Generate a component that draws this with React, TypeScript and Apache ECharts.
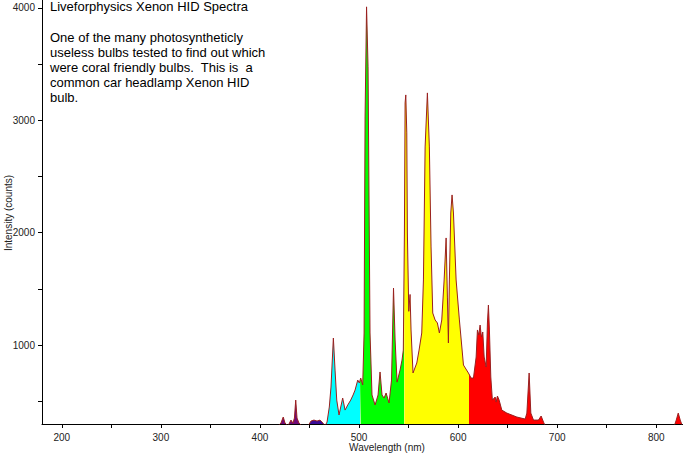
import React, { useEffect, useRef } from "react";
import * as echarts from "echarts";

// Spectrum samples (wavelength in nm, intensity in counts)
const wavelengthNm = [
  418.2, 421.2, 423.5, 425.3, 428.3, 431.3, 433.3, 434.8, 436.1, 437.4, 439.4, 442.4,
  448.5, 451.5, 454.5, 457.6, 460.6, 463.6, 465.7, 467.7, 470.0, 471.7, 474.1, 475.8,
  477.5, 479.8, 483.5, 485.9, 488.6, 491.6, 494.0, 496.0, 498.7, 500.3, 501.7, 503.7,
  505.1, 506.1, 507.6, 509.1, 510.1, 511.1, 513.1, 516.2, 519.2, 521.2, 523.2, 525.3,
  527.3, 530.3, 532.8, 534.8, 536.4, 538.4, 541.4, 543.4, 544.7, 545.8, 546.5, 547.2,
  548.2, 548.8, 550.2, 551.5, 552.5, 554.5, 558.3, 560.6, 563.3, 565.0, 566.7, 569.0,
  571.0, 572.7, 574.4, 576.8, 579.1, 581.1, 583.5, 585.9, 587.9, 589.2, 590.2, 591.2,
  592.6, 593.9, 595.3, 598.0, 601.3, 605.4, 610.4, 613.1, 615.5, 618.2, 619.5, 620.9,
  622.2, 623.5, 624.9, 626.3, 628.3, 629.6, 630.6, 631.6, 633.0, 634.6, 637.4, 638.4,
  639.7, 641.4, 644.1, 649.2, 659.3, 667.7, 669.4, 671.7, 673.4, 676.1, 681.1, 683.8,
  686.2, 687.9, 700, 818.2, 820.2, 822.2, 824.2, 826.3,
];
const intensity: (number | null)[] = [
  280, 305, 359, 305, 280, 332, 305, 350, 510, 350, 305, 280,
  280, 323, 332, 323, 332, 305, 280, 314, 448, 626, 1062, 777,
  510, 377, 528, 421, 466, 510, 555, 599, 688, 662, 706, 644,
  1107, 3030, 4010, 3476, 2291, 1107, 555, 466, 555, 760, 555, 528,
  573, 484, 688, 1507, 1045, 670, 777, 866, 955, 1997, 3155, 3226,
  2888, 1997, 1300, 1450, 1134, 751, 840, 955, 1107, 1579, 2763, 3244,
  2763, 1873, 1285, 1223, 1196, 1107, 1223, 1579, 1953, 1427, 1018, 1579,
  2175, 2336, 2175, 1579, 1223, 822, 751, 706, 706, 893, 1134, 1089,
  1178, 1071, 1116, 893, 804, 1196, 1356, 1134, 715, 510, 537, 492,
  546, 510, 421, 394, 359, 341, 394, 751, 394, 332, 332, 368,
  314, 280, null, 280, 332, 394, 332, 280,
];

// Colour bands of the fill (nm edges)
const bandEdges = [400, 445, 467, 501, 545.5, 611, 830];
const bandColors = ["#6e0a78", "#3a0a96", "#00ffff", "#00ff00", "#ffff00", "#ff0000"];

// Axis ticks and labels
const xTickValues = [200, 250, 300, 350, 400, 450, 500, 550, 600, 650, 700, 750, 800];
const xLabelValues = [200, 300, 400, 500, 600, 700, 800];
const yTickValues = [500, 1000, 1500, 2000, 2500, 3000, 3500, 4000];
const yLabelValues = [1000, 2000, 3000, 4000];

const titleText = "Liveforphysics Xenon HID Spectra";
const noteLines = [
  "One of the many photosyntheticly",
  "useless bulbs tested to find out which",
  "were coral friendly bulbs.  This is  a",
  "common car headlamp Xenon HID",
  "bulb.",
];

type Pt = [number, number | null];

function buildSegment(points: Pt[], lo: number, hi: number): Pt[] {
  const out: Pt[] = [];
  const interp = (a: Pt, b: Pt, x: number) =>
    (a[1] as number) + (((b[1] as number) - (a[1] as number)) * (x - a[0])) / (b[0] - a[0]);
  for (let i = 0; i < points.length; i++) {
    const cur = points[i];
    const prev = i > 0 ? points[i - 1] : null;
    if (prev && prev[1] != null && cur[1] != null) {
      if (prev[0] < lo && cur[0] > lo) out.push([lo, interp(prev, cur, lo)]);
      if (prev[0] < hi && cur[0] > hi) out.push([hi, interp(prev, cur, hi)]);
    }
    if (cur[0] >= lo && cur[0] <= hi) out.push([cur[0], cur[1]]);
  }
  return out;
}

export default function App() {
  const ref = useRef<HTMLDivElement>(null);
  useEffect(() => {
    document.body.style.margin = "0";
    if (!ref.current) return;
    const chart = echarts.init(ref.current, null, { renderer: "svg" });
    const points: Pt[] = wavelengthNm.map((w, i) => [w, intensity[i]]);
    const fillSeries = bandColors.map((c, i) => ({
      type: "line",
      data: buildSegment(points, bandEdges[i], bandEdges[i + 1]),
      showSymbol: false,
      connectNulls: false,
      lineStyle: { width: 0 },
      areaStyle: { color: c, opacity: 1, origin: "start" },
      z: 2,
      silent: true,
    }));
    const font = "'Liberation Sans', Arial, sans-serif";
    chart.setOption({
      animation: false,
      backgroundColor: "#ffffff",
      grid: { left: 42, right: 0, top: 0, bottom: 30 },
      xAxis: {
        type: "value",
        min: 180,
        max: 827,
        axisLine: { show: true, onZero: false, lineStyle: { color: "#000", width: 1 } },
        axisTick: { show: true, length: 4, customValues: xTickValues, lineStyle: { color: "#000" } },
        axisLabel: {
          customValues: xLabelValues,
          formatter: (v: number) => String(v),
          margin: 8,
          fontSize: 10,
          color: "#222",
          fontFamily: font,
        },
        splitLine: { show: false },
      },
      yAxis: {
        type: "value",
        min: 297,
        max: 4071,
        axisLine: { show: true, onZero: false, lineStyle: { color: "#000", width: 1 } },
        axisTick: { show: true, length: 4, customValues: yTickValues, lineStyle: { color: "#000" } },
        axisLabel: {
          customValues: yLabelValues,
          formatter: (v: number) => String(v),
          margin: 7,
          fontSize: 10,
          color: "#222",
          fontFamily: font,
        },
        splitLine: { show: false },
      },
      series: [
        ...fillSeries,
        {
          type: "line",
          data: points,
          showSymbol: false,
          connectNulls: false,
          lineStyle: { color: "#9a2020", width: 1 },
          z: 3,
          silent: true,
        },
      ],
      graphic: [
        {
          type: "text",
          left: 50,
          top: 0,
          style: { text: titleText, fontSize: 13, fontFamily: font, fill: "#000" },
        },
        {
          type: "text",
          left: 50,
          top: 30,
          style: {
            text: noteLines.join("\n"),
            fontSize: 13,
            lineHeight: 15,
            fontFamily: font,
            fill: "#000",
          },
        },
        {
          type: "text",
          x: 387,
          y: 447,
          style: {
            text: "Wavelength (nm)",
            fontSize: 10,
            fontFamily: font,
            fill: "#222",
            align: "center",
            verticalAlign: "middle",
          },
        },
        {
          type: "text",
          x: 8,
          y: 213,
          rotation: Math.PI / 2,
          style: {
            text: "Intensity (counts)",
            fontSize: 10,
            fontFamily: font,
            fill: "#222",
            align: "center",
            verticalAlign: "middle",
          },
        },
      ],
    });
    return () => chart.dispose();
  }, []);
  return <div ref={ref} style={{ width: 683, height: 454 }} />;
}
